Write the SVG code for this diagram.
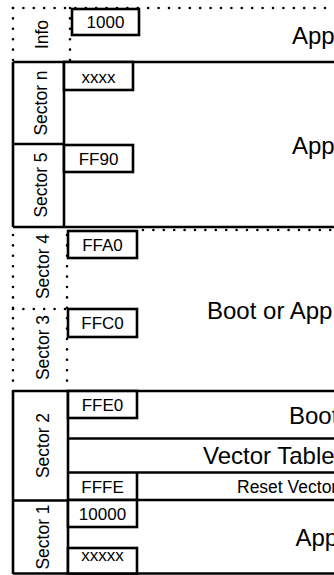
<svg xmlns="http://www.w3.org/2000/svg" width="334" height="575" viewBox="0 0 334 575">
<style>
text{font-family:"Liberation Sans",Arial,sans-serif;fill:#000}
.big{font-size:24px}
.lbl{font-size:17px;text-anchor:middle}
.sec{font-size:17.5px;text-anchor:middle}
.rv{font-size:17.5px}
.ln{stroke:#000;stroke-width:2.6;fill:none}
.box{stroke:#000;stroke-width:2.6;fill:#fff}
.dot{stroke:#000;stroke-width:2.6;stroke-dasharray:0 10.4;stroke-linecap:round;fill:none}
</style>
<rect width="334" height="575" fill="#fff"/>

<g id="info">
<line class="dot" x1="13" y1="8" x2="334" y2="8"/>
<line class="dot" x1="13" y1="8" x2="13" y2="60"/>
<line class="dot" x1="70" y1="8" x2="70" y2="60"/>
<rect class="box" x="72" y="9" width="67" height="26"/>
<text class="lbl" x="105.5" y="28">1000</text>
<text class="sec" transform="translate(47.5,34.5) rotate(-90)">Info</text>
<text class="big" x="292" y="43.5">App</text>
</g>

<g id="sector-n-5">
<line class="ln" x1="13" y1="62" x2="334" y2="62"/>
<line class="ln" x1="13" y1="62" x2="13" y2="227"/>
<line class="ln" x1="64" y1="62" x2="64" y2="227"/>
<line class="ln" x1="13" y1="144" x2="64" y2="144"/>
<line class="ln" x1="13" y1="227" x2="334" y2="227"/>
<rect class="box" x="64" y="62" width="69" height="28"/>
<text class="lbl" x="98.5" y="82.5">xxxx</text>
<rect class="box" x="64" y="145" width="69" height="27"/>
<text class="lbl" x="98.5" y="165">FF90</text>
<text class="sec" transform="translate(47,103) rotate(-90)">Sector n</text>
<text class="sec" transform="translate(47,185) rotate(-90)">Sector 5</text>
<text class="big" x="292" y="153.5">App</text>
</g>

<g id="sector-4-3">
<line class="dot" x1="143" y1="230" x2="334" y2="230"/>
<line class="dot" x1="13" y1="235" x2="13" y2="391"/>
<line class="dot" x1="67" y1="235" x2="67" y2="391"/>
<line class="dot" x1="13" y1="309" x2="67" y2="309"/>
<rect class="box" x="68" y="231" width="69" height="27"/>
<text class="lbl" x="102.5" y="250.5">FFA0</text>
<rect class="box" x="68" y="309" width="69" height="28"/>
<text class="lbl" x="102.5" y="329">FFC0</text>
<text class="sec" transform="translate(48.5,266.5) rotate(-90)">Sector 4</text>
<text class="sec" transform="translate(48.5,347.5) rotate(-90)">Sector 3</text>
<text class="big" x="207" y="319">Boot or App</text>
</g>

<g id="sector-2-1">
<line class="ln" x1="13" y1="391" x2="334" y2="391"/>
<line class="ln" x1="13" y1="391" x2="13" y2="574"/>
<line class="ln" x1="68" y1="391" x2="68" y2="574"/>
<line class="ln" x1="13" y1="500.5" x2="68" y2="500.5"/>
<line class="ln" x1="68" y1="438.5" x2="334" y2="438.5"/>
<line class="ln" x1="68" y1="472.5" x2="334" y2="472.5"/>
<line class="ln" x1="68" y1="500" x2="334" y2="500"/>
<line class="ln" x1="13" y1="573.5" x2="334" y2="573.5"/>
<rect class="box" x="68" y="391" width="69" height="27"/>
<text class="lbl" x="102.5" y="410.5">FFE0</text>
<line class="ln" x1="137" y1="472.5" x2="137" y2="500"/>
<text class="lbl" x="102.5" y="492.5">FFFE</text>
<rect class="box" x="68" y="500" width="69" height="27"/>
<text class="lbl" x="102.5" y="519.5">10000</text>
<rect class="box" x="68" y="548" width="69" height="25.5"/>
<text class="lbl" x="102.5" y="561">xxxxx</text>
<text class="sec" transform="translate(48.5,445.5) rotate(-90)">Sector 2</text>
<text class="sec" transform="translate(48.5,537) rotate(-90)">Sector 1</text>
<text class="big" x="289" y="423.5">Boot</text>
<text class="big" x="203" y="463.5">Vector Table</text>
<text class="rv" x="237" y="492.5">Reset Vector</text>
<text class="big" x="295.5" y="545.5">App</text>
</g>

<g id="connectors"></g>
</svg>
